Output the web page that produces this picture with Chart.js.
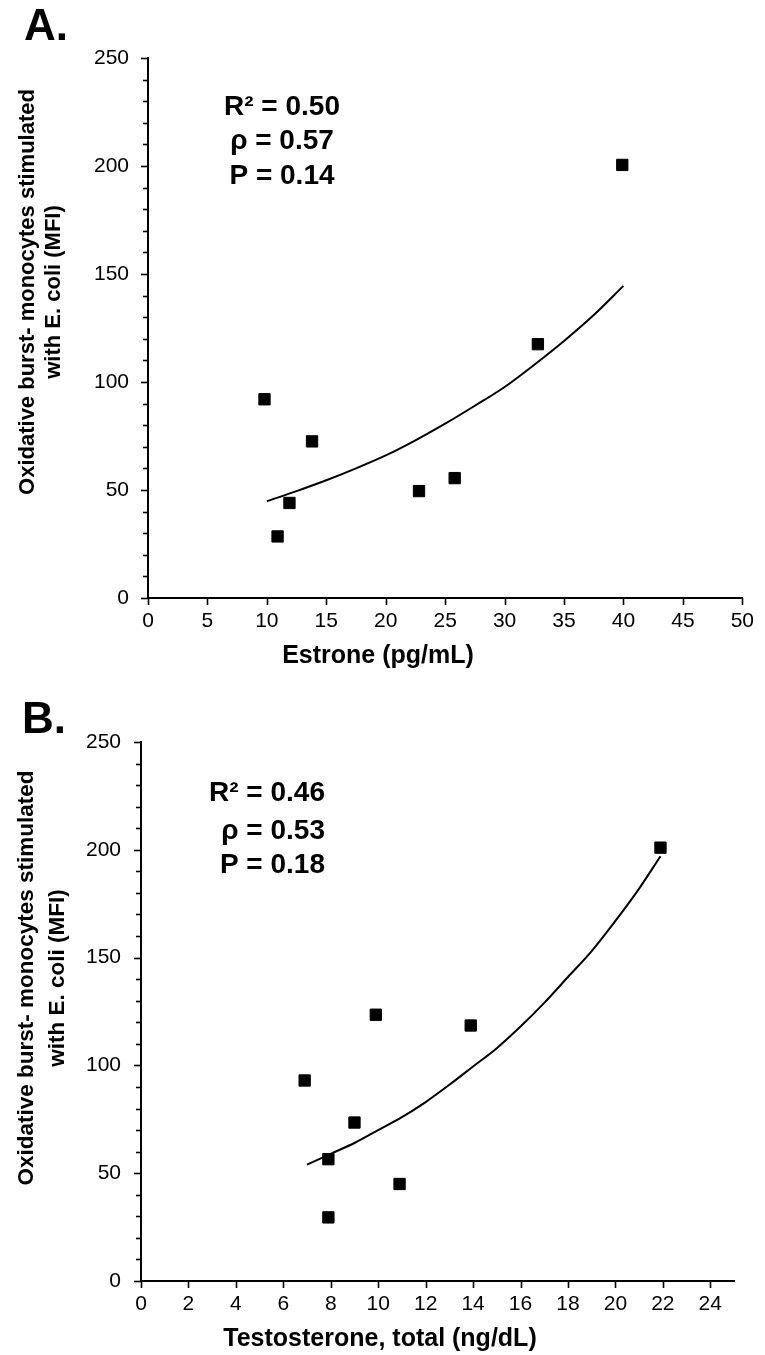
<!DOCTYPE html>
<html><head><meta charset="utf-8">
<script src="https://cdn.jsdelivr.net/npm/chart.js@4.4.0/dist/chart.umd.min.js"></script>
<style>
html,body{margin:0;padding:0;background:#fff;width:765px;height:1355px;overflow:hidden}
canvas{position:absolute;left:0;display:block}
#ca{top:0}
#cb{top:690px}
</style></head>
<body>
<canvas id="ca" width="765" height="690"></canvas>
<canvas id="cb" width="765" height="665"></canvas>
<script>
// ---------- Data ----------
const estroneX = [9.8, 10.9, 11.9, 13.8, 22.8, 25.8, 32.8, 39.9];
const burstA   = [92, 28.5, 44, 72.5, 49.5, 55.5, 117.5, 200.5];
const trendAX  = [10, 12.5, 15, 17.5, 20, 22.5, 25, 27.5, 30, 32.5, 35, 37.5, 40];
const trendAY  = [44.8, 49.5, 54.5, 60, 66, 73, 80.7, 89, 97.7, 108, 119, 131, 144.5];

const testoX   = [6.9, 7.9, 7.9, 9.0, 9.9, 10.9, 13.9, 21.9];
const burstB   = [93, 56.5, 29.5, 73.5, 123.5, 45, 118.5, 201];
const trendBX  = [7, 8, 9, 10, 11, 12, 13, 14, 15, 16, 17, 18, 19, 20, 21, 21.9];
const trendBY  = [54, 59, 64, 70, 76, 83, 91, 99.5, 108, 118, 129, 141, 153, 167, 182, 197];

const yTickLabels  = [0, 50, 100, 150, 200, 250];
const xTickLabelsA = [0, 5, 10, 15, 20, 25, 30, 35, 40, 45, 50];
const xTickLabelsB = [0, 2, 4, 6, 8, 10, 12, 14, 16, 18, 20, 22, 24];

const statsA = ['R\u00B2 = 0.50', '\u03C1 = 0.57', 'P = 0.14'];
const statsB = ['R\u00B2 = 0.46', '\u03C1 = 0.53', 'P = 0.18'];
const yTitleLines = ['Oxidative burst- monocytes stimulated', 'with E. coli (MFI)'];

const FONT = "'Liberation Sans', Arial, Helvetica, sans-serif";

const yMinor = [];
for (let v = 0; v <= 250; v += 10) yMinor.push(v);

// ---------- decoration plugin ----------
const decor = {
  id: 'decor',
  afterDraw(chart, args, o) {
    const ctx = chart.ctx;
    const xs = chart.scales.x, ys = chart.scales.y;
    const ca = chart.chartArea;
    ctx.save();
    ctx.strokeStyle = '#000';
    ctx.lineWidth = 1.6;
    // y ticks (major + minor)
    ys.ticks.forEach(t => {
      const p = Math.round(ys.getPixelForValue(t.value)) + 0.5;
      const len = (t.value % 50 === 0) ? 7 : 5;
      ctx.beginPath();
      ctx.moveTo(ca.left - len, p);
      ctx.lineTo(ca.left, p);
      ctx.stroke();
    });
    // x ticks
    xs.ticks.forEach(t => {
      const p = Math.round(xs.getPixelForValue(t.value)) + 0.5;
      ctx.beginPath();
      ctx.moveTo(p, ca.bottom);
      ctx.lineTo(p, ca.bottom + 7);
      ctx.stroke();
    });
    ctx.fillStyle = '#000';
    // panel label
    ctx.font = 'bold 44px ' + FONT;
    ctx.textAlign = 'left';
    ctx.textBaseline = 'middle';
    ctx.fillText(o.panel, o.panelX, o.panelY);
    // y title
    ctx.font = 'bold ' + o.yTitleSize + 'px ' + FONT;
    ctx.textAlign = 'center';
    ctx.textBaseline = 'middle';
    o.yTitle.forEach((line, i) => {
      ctx.save();
      ctx.translate(o.yTitleX[i], o.yTitleY);
      ctx.rotate(-Math.PI / 2);
      ctx.fillText(line, 0, 0);
      ctx.restore();
    });
    // x title
    ctx.font = 'bold 25px ' + FONT;
    ctx.textAlign = 'center';
    ctx.fillText(o.xTitle, o.xTitleX, o.xTitleY);
    // stats
    ctx.font = 'bold 28px ' + FONT;
    ctx.textAlign = o.statsAlign;
    o.stats.forEach((s, i) => ctx.fillText(s, o.statsX, o.statsY[i]));
    ctx.restore();
  }
};

function makeChart(id, cfg) {
  const pts = cfg.xs.map((x, i) => ({x: x, y: cfg.ys[i]}));
  const trend = cfg.tx.map((x, i) => ({x: x, y: cfg.ty[i]}));
  return new Chart(document.getElementById(id), {
    type: 'scatter',
    data: {
      datasets: [
        {
          data: trend, showLine: true, pointRadius: 0, borderColor: '#000',
          borderWidth: 2, tension: 0.4, cubicInterpolationMode: 'monotone', fill: false
        },
        {
          data: pts, pointStyle: 'rect', pointRadius: 8, backgroundColor: '#000',
          borderColor: '#000', borderWidth: 1
        }
      ]
    },
    options: {
      responsive: false, animation: false, devicePixelRatio: 1,
      layout: { autoPadding: false, padding: cfg.padding },
      plugins: { legend: { display: false }, tooltip: { enabled: false }, decor: cfg.decor },
      scales: {
        x: {
          type: 'linear', min: 0, max: cfg.xMax,
          afterBuildTicks: s => { s.ticks = cfg.xTicks.map(v => ({value: v})); },
          ticks: { padding: cfg.xPad, color: '#000', font: { family: FONT, size: 21 }, autoSkip: false, maxRotation: 0,
                   callback: v => String(v) },
          grid: { display: false, drawTicks: false },
          border: { display: true, color: '#000', width: 2 },
          afterFit: s => { s.height = cfg.xHeight; }
        },
        y: {
          type: 'linear', min: 0, max: 250,
          afterBuildTicks: s => { s.ticks = yMinor.map(v => ({value: v})); },
          ticks: { padding: cfg.yPad, color: '#000', font: { family: FONT, size: 21 }, autoSkip: false,
                   callback: v => yTickLabels.includes(v) ? String(v) : '' },
          grid: { display: false, drawTicks: false },
          border: { display: true, color: '#000', width: 2 },
          afterFit: s => { s.width = cfg.yWidth; }
        }
      }
    },
    plugins: [decor]
  });
}

makeChart('ca', {
  xs: estroneX, ys: burstA, tx: trendAX, ty: trendAY,
  xMax: 50, xTicks: xTickLabelsA,
  padding: { top: 58, right: 16, left: 0, bottom: 0 },
  yWidth: 148, xHeight: 92, xPad: 11, yPad: 19,
  decor: {
    panel: 'A.', panelX: 24, panelY: 28,
    yTitle: yTitleLines, yTitleSize: 22, yTitleX: [28, 54], yTitleY: 292,
    xTitle: 'Estrone (pg/mL)', xTitleX: 378, xTitleY: 656,
    stats: statsA, statsAlign: 'center', statsX: 282, statsY: [107, 141, 176]
  }
});

makeChart('cb', {
  xs: testoX, ys: burstB, tx: trendBX, ty: trendBY,
  xMax: 25, xTicks: xTickLabelsB,
  padding: { top: 52, right: 31, left: 0, bottom: 0 },
  yWidth: 141, xHeight: 74, xPad: 11, yPad: 20,
  decor: {
    panel: 'B.', panelX: 22, panelY: 31,
    yTitle: yTitleLines, yTitleSize: 22.5, yTitleX: [27, 58], yTitleY: 288,
    xTitle: 'Testosterone, total (ng/dL)', xTitleX: 380, xTitleY: 649,
    stats: statsB, statsAlign: 'right', statsX: 325, statsY: [103, 141, 175]
  }
});
</script>
</body></html>
